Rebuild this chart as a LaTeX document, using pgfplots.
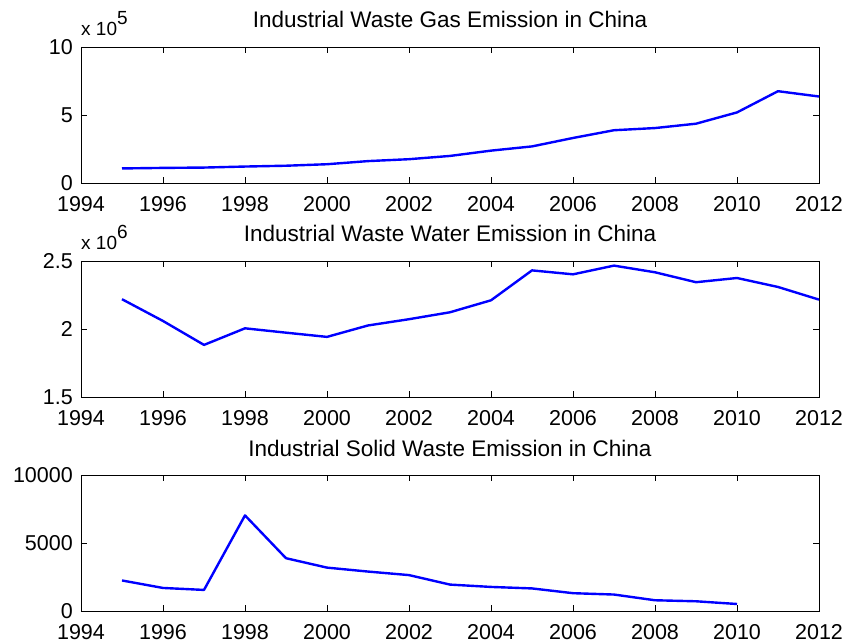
\documentclass[border=0pt]{standalone}
\usepackage{fontspec}
\setmainfont{Liberation Sans}
\usepackage{pgfplots}
\pgfplotsset{compat=1.18}

% Annual emissions, China, 1995--2012
\pgfplotstableread{
year gas
1995 107000
1996 111000
1997 113500
1998 121000
1999 127000
2000 138000
2001 161000
2002 175000
2003 199000
2004 238000
2005 269000
2006 331000
2007 388000
2008 404000
2009 436000
2010 519000
2011 675000
2012 636000
}\gasdata

\pgfplotstableread{
year water
1995 2219000
1996 2059000
1997 1883000
1998 2005000
1999 1973000
2000 1942000
2001 2026000
2002 2072000
2003 2123000
2004 2211000
2005 2431000
2006 2402000
2007 2466000
2008 2417000
2009 2344000
2010 2375000
2011 2309000
2012 2216000
}\waterdata

\pgfplotstableread{
year solid
1995 2245
1996 1695
1997 1550
1998 7030
1999 3882
2000 3190
2001 2900
2002 2640
2003 1942
2004 1770
2005 1660
2006 1310
2007 1210
2008 790
2009 715
2010 515
}\soliddata

\pgfplotsset{
  emis/.style={
    scale only axis, width=738pt, height=136pt, anchor=south west,
    xmin=1994, xmax=2012, xtick={1994,1996,...,2012},
    tick align=inside, major tick length=6pt,
    xtick pos=both, ytick pos=both,
    axis line style={line width=0.8pt},
    every tick/.style={black, line width=0.6pt},
    scaled ticks=false,
    /pgf/number format/assume math mode=true,
    /pgf/number format/1000 sep={},
    ticklabel style={font=\fontsize{21.5}{24}\selectfont, inner sep=0pt},
    xticklabel style={anchor=base, yshift=-28.7pt},
    yticklabel style={anchor=east, xshift=-8pt},
    every axis title/.style={at={(0.5,1)}, anchor=base, yshift=19pt,
      inner sep=0pt, font=\fontsize{22.5}{25}\selectfont},
    clip mode=individual,
  },
  emisline/.style={blue, line width=2.4pt, line join=round, mark=none},
}

\newcommand{\scalelabel}[1]{%
  \node[anchor=base west, inner sep=0pt, font=\fontsize{19}{22}\selectfont]
    at (rel axis cs:0,1) [yshift=11.3pt] {x 10\raisebox{10.7pt}{#1}};}

\begin{document}
\begin{tikzpicture}
\useasboundingbox (0,0) rectangle (845pt,643pt);

\begin{axis}[emis, at={(81pt,460pt)},
  title={Industrial Waste Gas Emission in China},
  ymin=0, ymax=1000000, ytick={0,500000,1000000}, yticklabels={0,5,10}]
  \addplot[emisline] table[x=year, y=gas] {\gasdata};
  \scalelabel{5}
\end{axis}

\begin{axis}[emis, at={(81pt,246pt)},
  title={Industrial Waste Water Emission in China},
  ymin=1500000, ymax=2500000, ytick={1500000,2000000,2500000},
  yticklabels={1.5,2,2.5}]
  \addplot[emisline] table[x=year, y=water] {\waterdata};
  \scalelabel{6}
\end{axis}

\begin{axis}[emis, at={(81pt,32pt)},
  title={Industrial Solid Waste Emission in China},
  ymin=0, ymax=10000, ytick={0,5000,10000}]
  \addplot[emisline] table[x=year, y=solid] {\soliddata};
\end{axis}
\end{tikzpicture}
\end{document}
